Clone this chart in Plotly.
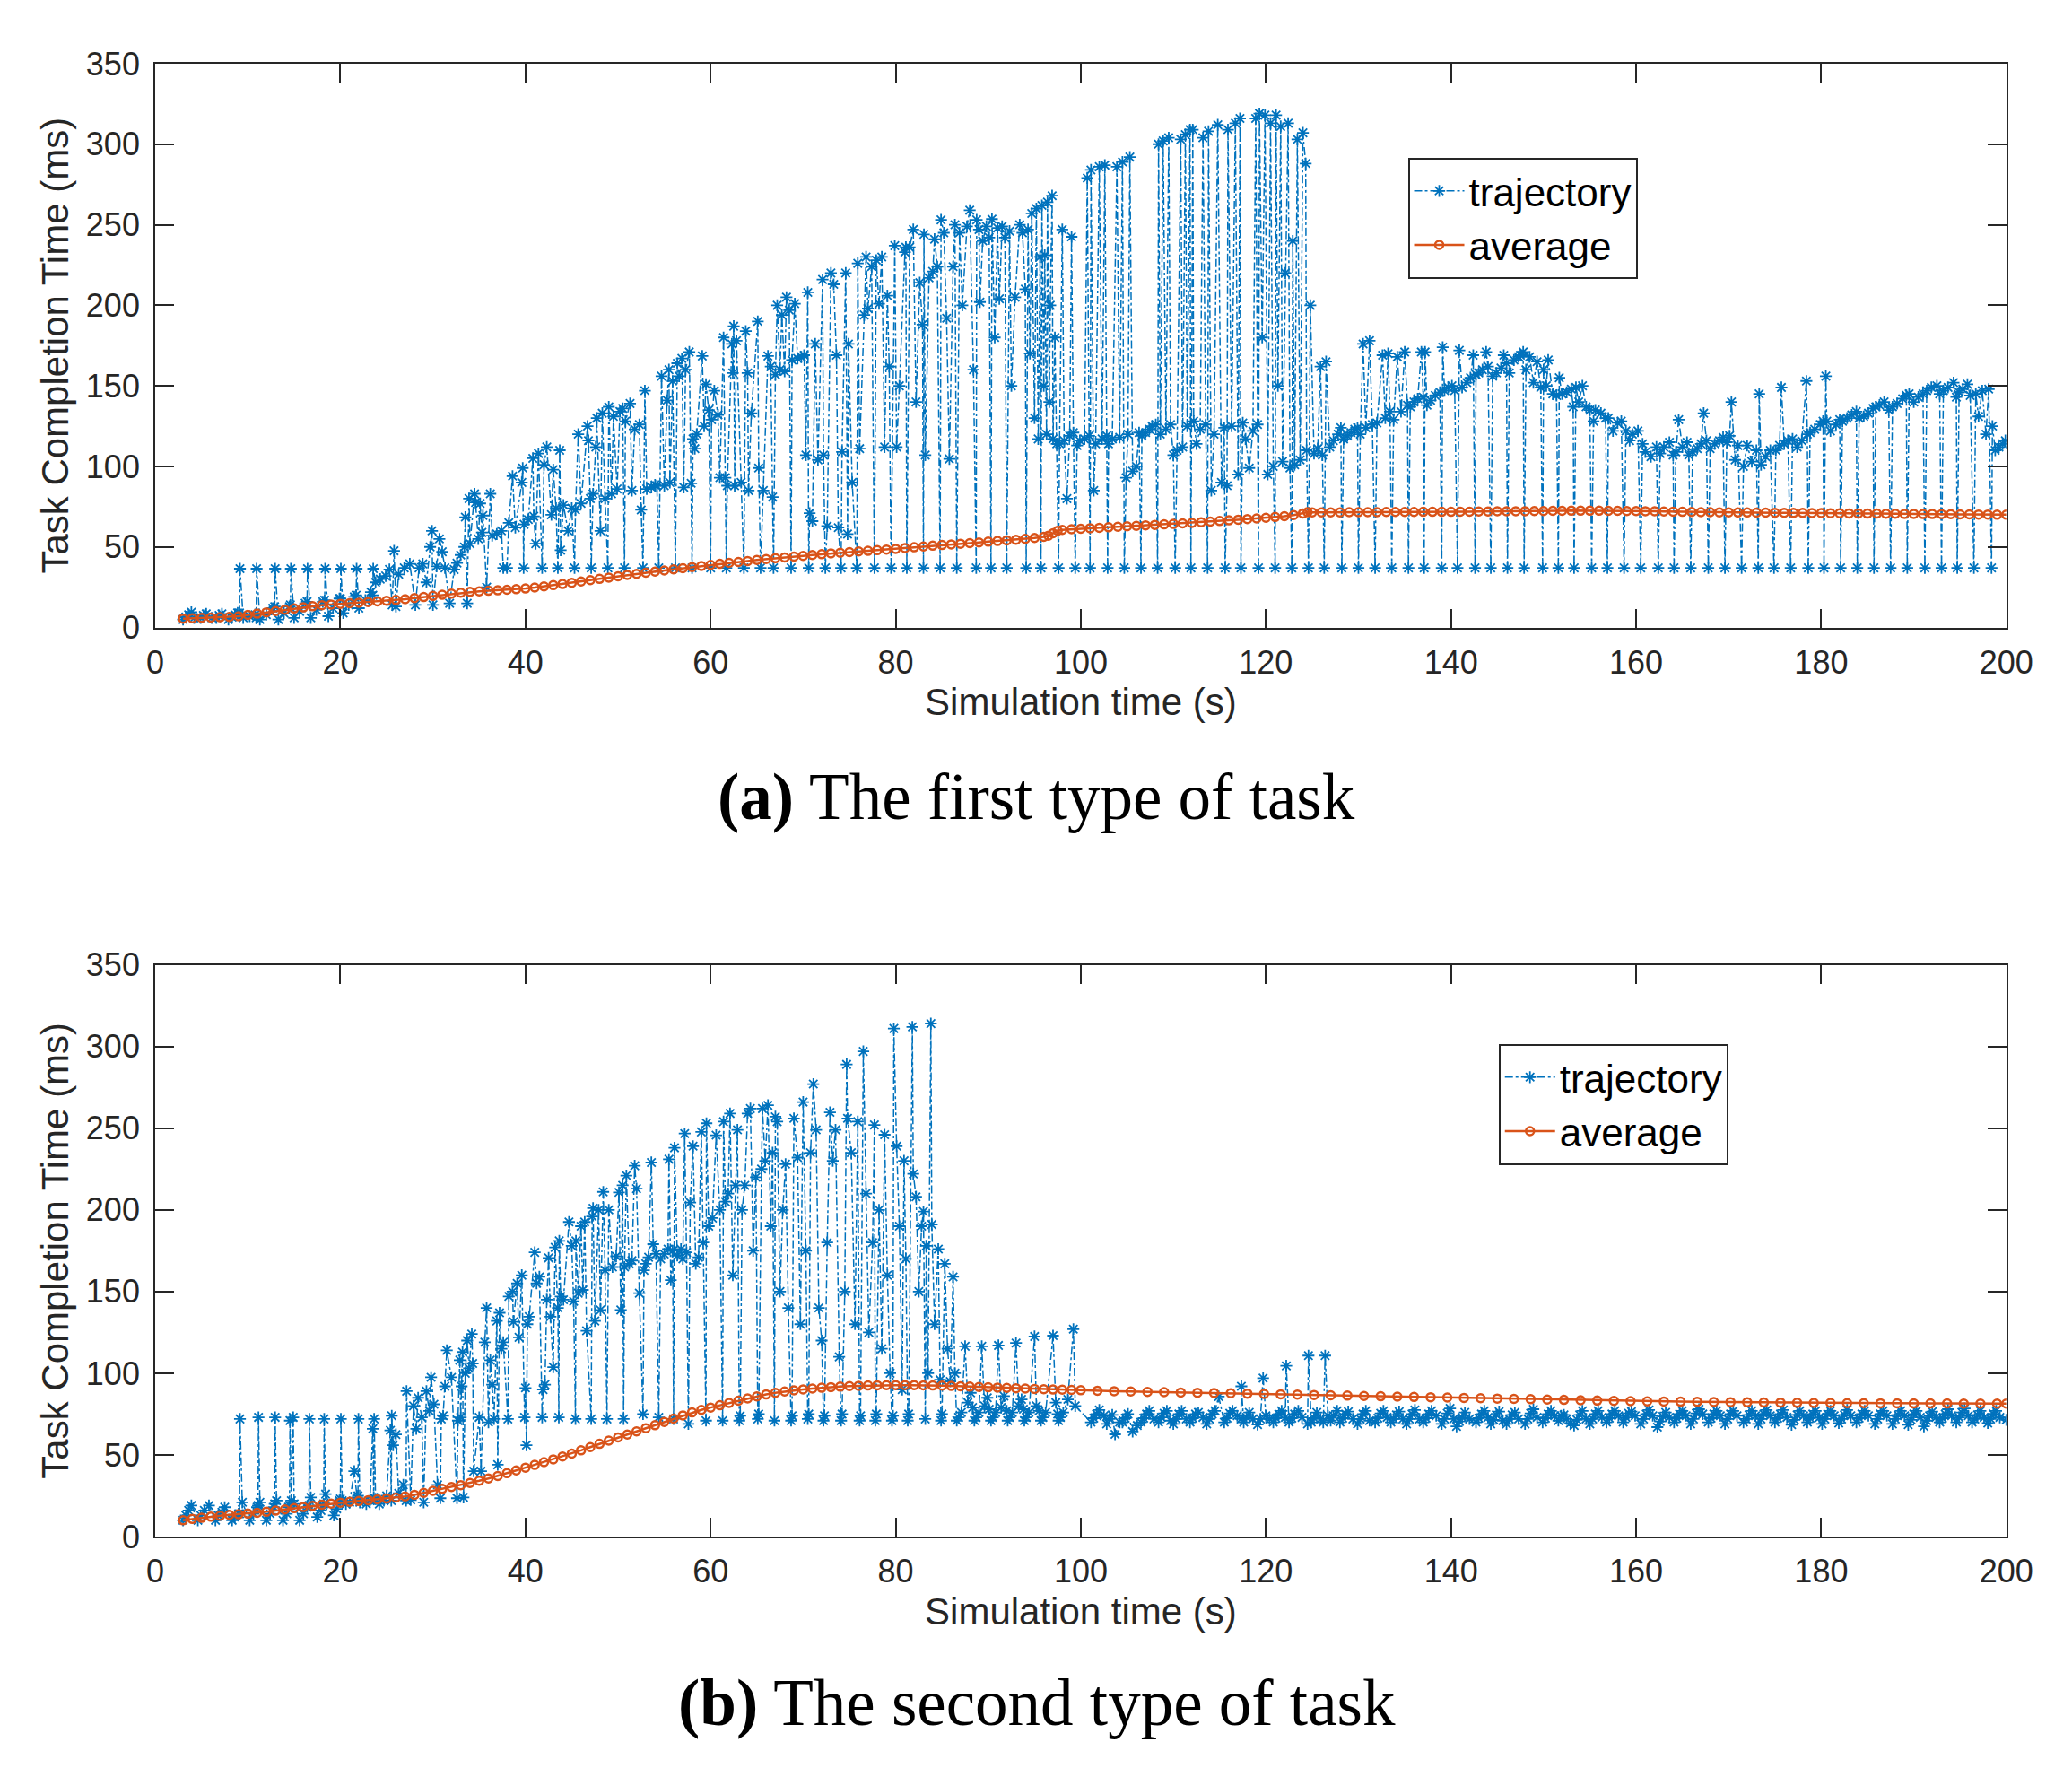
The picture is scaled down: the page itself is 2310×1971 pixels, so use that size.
import plotly.graph_objects as go

# ---- (a) first type of task: trajectory (time s, completion ms) ----
traj_a_t = [
    3.0, 3.3, 3.6, 3.9, 4.2, 4.9, 5.2, 5.5, 6.1, 6.6, 6.9, 7.2, 7.9, 8.3, 8.6, 8.9,
    9.1, 9.15, 9.5, 10.2, 10.8,
    10.9, 10.95, 11.3, 12.0, 12.7,
    12.9, 12.95, 13.3, 13.9, 14.5,
    14.6, 14.65, 15.0, 15.6, 16.2,
    16.4, 16.45, 16.8, 17.4, 18.1,
    18.3, 18.35, 18.7, 19.2, 19.9,
    20.0, 20.05, 20.3, 20.9, 21.5,
    21.7, 21.75, 22.0, 22.7, 23.3,
    23.5, 23.55, 23.8, 24.3, 24.9, 25.3,
    25.6, 25.8, 26.0, 26.3, 26.9, 27.5,
    28.1, 28.5, 28.9, 29.3, 29.7, 29.9,
    30.0, 30.4, 30.7, 31.0, 31.3,
    31.8, 32.3, 32.6, 33.0, 33.4, 33.5, 33.7,
    33.9, 34.0, 34.5, 34.6, 34.9, 35.1, 35.3, 35.4,
    35.8, 36.2, 36.4, 36.9, 37.4, 37.6,
    38.0, 38.2, 38.6, 38.9, 39.6, 39.7,
    39.8, 39.85, 40.3, 40.8, 40.9, 41.1, 41.4,
    41.8, 42.0, 42.3, 42.8, 43.0, 43.3,
    43.5, 43.7, 43.8, 44.1, 44.6, 45.0,
    45.3, 45.4, 45.7, 46.0, 46.7, 46.8, 47.0,
    47.1, 47.3, 47.6, 47.7, 48.1, 48.3, 48.6,
    48.9, 49.0, 49.3, 49.5, 49.9, 50.2, 50.5,
    50.7, 50.8, 51.3, 51.5, 51.8, 52.3, 52.5,
    52.7, 52.9, 53.1, 53.6, 54.0, 54.2,
    54.4, 54.7, 55.0, 55.3, 55.5, 55.6, 55.9,
    56.2, 56.4, 56.6, 56.9, 57.1, 57.3, 57.7, 57.9,
    58.0, 58.1, 58.3, 58.5, 59.1, 59.3, 59.5, 59.8,
    60.0, 60.1, 60.4, 60.8, 61.0, 61.4, 61.6,
    61.7, 61.8, 62.3, 62.4, 62.5, 62.6, 62.8, 63.3,
    63.6, 63.8, 64.0, 64.1, 64.4, 65.1, 65.2,
    65.4, 65.7, 66.2, 66.5, 66.7,
    66.8, 67.0, 67.2, 67.5, 67.7, 68.0, 68.2, 68.5,
    68.7, 68.8, 69.1, 69.4, 69.8, 70.1, 70.3, 70.5,
    70.6, 70.7, 71.0, 71.3, 71.6, 72.1, 72.2,
    72.4, 72.6, 73.0, 73.3, 73.6, 73.8,
    74.1, 74.2, 74.6, 74.8, 74.9, 75.3,
    75.8, 75.9, 76.1, 76.6, 76.8, 77.0, 77.4,
    77.7, 77.9, 78.2, 78.5, 78.8, 79.1, 79.3,
    79.5, 79.9, 80.1, 80.4, 81.0, 81.1,
    81.2, 81.5, 81.9, 82.2, 82.6, 82.9,
    83.0, 83.05, 83.2, 83.6, 84.0, 84.2, 84.5,
    84.8, 84.9, 85.2, 85.5, 85.8, 86.2, 86.4,
    86.6, 86.9, 87.2, 87.7, 88.0, 88.4,
    88.7, 88.75, 89.0, 89.1, 89.4, 89.8, 90.1,
    90.3, 90.4, 90.7, 91.0, 91.2, 91.5, 91.8,
    92.0, 92.3, 92.5, 92.9, 93.4, 93.7, 94.0,
    94.1, 94.3, 94.5, 94.7, 95.0, 95.2, 95.4, 95.6,
    95.7, 95.8, 96.0, 96.1, 96.3, 96.4, 96.6, 96.7, 96.9, 97.0, 97.2, 97.4,
    97.6, 97.7, 98.0, 98.2, 98.5, 98.8, 99.0, 99.2,
    99.4, 99.6, 99.9, 100.4, 100.7, 100.9,
    101.0, 101.1, 101.4, 101.6, 102.0, 102.3, 102.6, 102.8,
    102.9, 103.0, 103.4, 103.9, 104.2, 104.5,
    104.7, 104.9, 105.1, 105.3, 105.6, 106.0, 106.3,
    106.5, 106.6, 107.0, 107.4, 107.7, 108.1,
    108.3, 108.4, 108.6, 108.9, 109.2, 109.5, 109.7, 110.0,
    110.2, 110.4, 110.8, 111.0, 111.3, 111.5, 111.8,
    111.9, 112.1, 112.2, 112.5, 112.9, 113.2, 113.5,
    113.7, 113.8, 114.1, 114.4, 114.8, 115.2, 115.5,
    115.6, 115.8, 115.9, 116.3, 116.7, 117.0, 117.2,
    117.3, 117.5, 117.8, 118.2, 118.6, 118.9, 119.1,
    119.2, 119.3, 119.6, 119.9, 120.2, 120.5, 120.8,
    121.0, 121.1, 121.3, 121.6, 121.8, 122.1, 122.4, 122.6,
    122.8, 122.9, 123.1, 123.4, 123.7, 124.0, 124.3, 124.4,
    124.6, 124.8, 125.2, 125.6, 125.9, 126.1,
    126.3, 126.5, 126.9, 127.3, 127.8, 128.1,
    128.2, 128.4, 128.8, 129.2, 129.6, 129.9,
    130.0, 130.2, 130.5, 130.8, 131.2, 131.5,
    131.8, 132.0, 132.6, 132.9, 133.2, 133.4,
    133.6, 133.8, 134.2, 134.6, 135.0, 135.3,
    135.4, 135.6, 136.0, 136.4, 136.8, 137.0,
    137.1, 137.2, 137.4, 137.8, 138.3, 138.8,
    139.0, 139.1, 139.3, 139.7, 140.1, 140.4,
    140.7, 140.9, 141.2, 141.7, 142.1, 142.4,
    142.6, 142.7, 143.0, 143.4, 143.8, 144.0,
    144.3, 144.5, 144.9, 145.4, 145.7, 146.0,
    146.1, 146.3, 146.8, 147.3, 147.5, 147.8,
    147.9, 148.1, 148.5, 148.9, 149.3, 149.7,
    149.9, 150.0, 150.3, 150.5, 151.0, 151.4,
    151.6, 151.7, 152.0, 152.5, 153.0, 153.2,
    153.3, 153.5, 153.8, 154.2, 154.6, 155.0,
    155.2, 155.4, 155.6, 156.2, 156.7,
    156.9, 157.0, 157.5, 158.0, 158.4,
    158.7, 158.9, 159.3, 159.6, 160.2,
    160.5, 160.7, 161.0, 161.6, 162.2,
    162.4, 162.6, 163.0, 163.6, 164.0,
    164.1, 164.3, 164.6, 165.0, 165.5, 165.7,
    165.9, 166.1, 166.6, 167.0, 167.3, 167.6,
    167.8, 168.0, 168.5, 169.0, 169.4,
    169.6, 169.8, 170.1, 170.3, 170.7, 171.0,
    171.4, 171.6, 172.0, 172.5, 173.0,
    173.2, 173.3, 173.5, 174.0, 174.5,
    174.9, 175.1, 175.5, 175.7, 176.0, 176.4,
    176.7, 176.9, 177.4, 177.9, 178.4, 178.5,
    178.6, 178.8, 179.3, 179.9, 180.2,
    180.3, 180.5, 180.6, 181.0, 181.6, 182.0,
    182.1, 182.3, 182.8, 183.3, 183.8,
    183.9, 184.1, 184.6, 185.1, 185.6,
    185.7, 185.9, 186.3, 186.8, 187.3,
    187.5, 187.7, 188.2, 188.8, 189.2,
    189.3, 189.5, 190.0, 190.5, 191.0,
    191.2, 191.4, 191.9, 192.5, 192.8,
    193.0, 193.2, 193.7, 194.3, 194.6,
    194.7, 194.9, 195.3, 195.8, 196.1,
    196.5, 196.7, 197.0, 197.4, 197.8, 198.1,
    198.4, 198.5, 198.8, 199.2, 199.6, 199.9,
]
traj_a_y = [
    5, 6.5, 8, 9.5, 6, 6, 7.5, 8.5, 6, 6, 7.5, 8.5, 5, 6.5, 8, 9,
    9, 36.5, 6, 7, 8,
    6, 36.5, 5, 8, 12,
    13, 36.5, 5, 9, 13,
    14, 36.5, 6, 10, 15,
    16, 36.5, 6, 11, 16,
    17, 36.5, 7, 12, 18,
    18, 36.5, 9, 14, 19,
    20, 36.5, 12, 17, 22,
    20, 36.5, 28, 30, 32, 36,
    14, 47.6, 13, 33, 37, 39.5,
    14, 37, 39.5, 28, 50, 60,
    14, 38, 55, 47, 37,
    15, 36, 40, 45, 50, 68.5, 15,
    80, 52, 83, 77.6, 55, 77, 59, 69.5,
    25, 83, 57, 58, 60, 37,
    37, 65, 94, 62, 90, 99,
    37, 64, 67, 105, 69, 52, 108,
    37, 101, 112, 70, 98, 74,
    37, 110, 48, 76, 60, 74,
    37, 73, 120, 77, 125, 116, 80,
    37, 83, 112, 130, 60, 133, 80,
    37, 137, 83, 131, 86, 134, 136,
    37, 128, 139, 85, 123, 126, 73,
    37, 147, 86, 87, 88.5, 88,
    37, 156, 88, 141, 160, 90, 153,
    37, 164, 156, 167, 87, 160, 171, 89.5,
    37, 117, 111, 120, 168.5, 125, 151, 135,
    37, 129, 147, 132, 93, 180, 93,
    37, 88, 176, 158, 187, 88, 178, 90,
    37, 184, 158, 85, 133, 190, 99,
    37, 85, 168.5, 162, 81,
    37, 157, 200, 160, 194, 159, 205, 197,
    37, 166, 201, 167, 168, 169, 107, 208,
    37, 71, 66, 176, 104, 216, 107,
    37, 63, 220, 213, 169, 62,
    37, 109, 220, 58, 176, 90,
    37, 226, 111, 194, 230, 198, 224,
    37, 228, 201, 230, 112, 206, 162,
    37, 237, 112, 150, 233, 236,
    37, 236, 247, 140, 214, 188,
    37, 244, 107, 217, 221, 241, 224,
    37, 253, 245, 192, 104.6, 224, 250,
    37, 245, 200, 249, 259, 160,
    37, 253, 247, 202, 240, 249, 242,
    37, 253.5, 180, 248, 204, 249, 242,
    37, 246, 150, 205, 250, 245, 210,
    37, 247, 170, 257, 130, 260, 117, 230,
    37, 262, 150, 231, 120, 264, 140, 200, 268, 117, 180, 114,
    37, 114, 247, 116, 80, 119, 242.5, 121,
    37, 113, 116, 117, 279, 119,
    37, 284, 85, 114, 286, 117, 287, 119,
    37, 114, 117, 286, 118, 289,
    37, 93, 120, 292, 97, 100, 121,
    37, 119, 121, 123, 125, 126,
    37, 300, 120, 302, 123, 304, 126, 107,
    37, 110, 303, 112, 306, 125, 309,
    37, 309, 128, 114, 123, 304, 126,
    37, 308, 85, 120, 312, 90, 124,
    37, 88, 309, 125, 313, 95, 316,
    37, 127, 117, 99, 122, 316, 126,
    37, 319, 180, 318, 95, 313, 100,
    37, 318, 150, 311, 103, 220, 313, 99,
    37, 240, 101, 303, 104, 307, 288, 110,
    37, 200, 108, 111, 162, 107,
    37, 165, 112, 116, 120, 124,
    37, 117, 119, 121, 123, 124,
    37, 120, 176, 124, 178, 126,
    37, 127, 169, 130, 170, 134,
    37, 129, 168, 134, 171, 138,
    37, 137, 140, 142, 171, 143,
    37, 171, 138, 141, 144, 146,
    37, 174, 147, 149, 150, 147,
    37, 172, 149, 152, 155, 169,
    37, 157, 158, 160, 171, 162,
    37, 156, 158, 161, 169, 164,
    37, 158, 166, 168, 169, 171,
    37, 160, 168, 152, 165, 149,
    37, 160, 150, 166, 145, 144,
    37, 155, 145, 146, 148, 137,
    37, 149, 140, 150, 137, 135,
    37, 128, 135, 133, 130,
    37, 130, 122, 127, 128,
    37, 122, 116, 120, 122,
    37, 114, 109, 106, 112,
    37, 108, 112, 115, 107,
    37, 109, 129, 112, 115, 107,
    37, 109, 111, 114, 133, 116,
    37, 111, 114, 116, 118,
    37, 115, 119, 140, 104, 113,
    37, 100, 113, 103, 110,
    37, 145, 101, 106, 110,
    37, 110, 113, 149, 114, 116,
    37, 117, 112, 116, 153, 120,
    37, 121, 123, 126, 128,
    37, 156, 128, 122, 126, 129,
    37, 128, 130, 132, 134,
    37, 130, 131, 133, 136,
    37, 137, 138, 140, 135,
    37, 137, 139, 142, 144,
    37, 145, 140, 143, 145,
    37, 147, 149, 150, 145,
    37, 147, 149, 152, 143,
    37, 146, 148, 151, 144,
    37, 145, 131, 147, 120, 148,
    37, 125, 110, 112, 114, 116,
]

# ---- (a) running average ----
avg_a_t = [
    3, 4, 5, 6, 7, 8, 9, 10, 11, 12, 13, 14, 15, 16, 17, 18, 19, 20,
    21, 22, 23, 24, 25, 26, 27, 28, 29, 30, 31, 32, 33, 34, 35, 36, 37, 38, 39, 40,
    41, 42, 43, 44, 45, 46, 47, 48, 49, 50, 51, 52, 53, 54, 55, 56, 57, 58, 59, 60,
    61, 62, 63, 64, 65, 66, 67, 68, 69, 70, 71, 72, 73, 74, 75, 76, 77, 78, 79, 80,
    81, 82, 83, 84, 85, 86, 87, 88, 89, 90, 91, 92, 93, 94, 95, 96, 96.5, 97, 97.5, 98, 99, 100,
    101, 102, 103, 104, 105, 106, 107, 108, 109, 110, 111, 112, 113, 114, 115, 116, 117, 118, 119, 120,
    121, 122, 123, 124, 124.5, 125, 126, 127, 128, 129, 130, 131, 132, 133, 134, 135, 136, 137, 138, 139, 140,
    141, 142, 143, 144, 145, 146, 147, 148, 149, 150, 151, 152, 153, 154, 155, 156, 157, 158, 159, 160,
    161, 162, 163, 164, 165, 166, 167, 168, 169, 170, 171, 172, 173, 174, 175, 176, 177, 178, 179, 180,
    181, 182, 183, 184, 185, 186, 187, 188, 189, 190, 191, 192, 193, 194, 195, 196, 197, 198, 199, 200,
]
avg_a_y = [
    5.5, 5.8, 6.0, 6.2, 6.4, 6.6, 7.0, 7.8, 8.6, 9.4, 10.2, 11.0, 11.8, 12.5, 13.2, 13.8, 14.3, 14.7,
    15.1, 15.4, 15.8, 16.2, 16.6, 17.1, 17.6, 18.3, 18.9, 19.6, 20.3, 21.0, 21.6, 22.1, 22.5, 22.8, 23.1, 23.4, 23.8, 24.2,
    24.8, 25.5, 26.3, 27.0, 27.8, 28.6, 29.4, 30.2, 31.0, 31.8, 32.6, 33.3, 34.0, 34.7, 35.4, 36.1, 36.8, 37.5, 38.2, 38.9,
    39.5, 40.1, 40.7, 41.3, 41.9, 42.5, 43.0, 43.5, 44.0, 44.5, 45.0, 45.5, 46.0, 46.4, 46.8, 47.2, 47.6, 48.0, 48.4, 48.8,
    49.3, 49.8, 50.3, 50.8, 51.2, 51.6, 52.0, 52.4, 52.8, 53.3, 53.7, 54.1, 54.5, 55.0, 55.6, 56.3, 57.0, 58.5, 60.0, 60.6, 61.0, 61.3,
    61.6, 61.9, 62.2, 62.5, 62.8, 63.1, 63.4, 63.7, 64.0, 64.3, 64.6, 64.9, 65.3, 65.7, 66.1, 66.5, 66.9, 67.3, 67.7, 68.1,
    68.6, 69.1, 69.8, 70.8, 71.6, 71.5, 71.5, 71.5, 71.5, 71.6, 71.6, 71.6, 71.6, 71.7, 71.7, 71.7, 71.7, 71.8, 71.8, 71.8, 71.8,
    71.9, 71.9, 72.0, 72.0, 72.1, 72.1, 72.2, 72.2, 72.3, 72.3, 72.4, 72.4, 72.5, 72.5, 72.5, 72.5, 72.4, 72.4, 72.3, 72.3,
    72.2, 72.1, 72.0, 71.9, 71.8, 71.7, 71.6, 71.6, 71.5, 71.5, 71.4, 71.4, 71.3, 71.3, 71.2, 71.2, 71.1, 71.1, 71.0, 71.0,
    70.9, 70.9, 70.8, 70.8, 70.7, 70.7, 70.6, 70.6, 70.5, 70.5, 70.4, 70.4, 70.3, 70.3, 70.2, 70.2, 70.1, 70.1, 70.0, 70.0,
]

# ---- (b) second type of task: trajectory ----
traj_b_t = [
    3.0, 3.3, 3.6, 3.9, 4.6, 4.9, 5.3, 5.8, 6.5, 6.8, 7.2, 7.5, 8.3, 8.6, 9.0,
    9.1, 9.15, 9.4, 10.2, 10.6, 11.0,
    11.1, 11.15, 11.3, 12.0, 12.4, 12.8,
    12.9, 12.95, 13.1, 13.8, 14.2, 14.4,
    14.5, 14.55, 14.7, 14.9, 15.0, 15.6, 16.0, 16.4,
    16.6, 16.65, 16.8, 17.5, 17.9, 18.1,
    18.2, 18.25, 18.4, 19.3, 19.6, 19.9,
    20.0, 20.05, 20.2, 20.6, 21.0, 21.5, 21.8,
    21.9, 21.95, 22.1, 22.8, 23.2, 23.5,
    23.6, 23.65, 23.8, 24.2, 24.7, 25.0, 25.4,
    25.5, 25.55, 25.7, 26.0, 26.3, 26.8,
    27.1, 27.15, 27.6, 27.9, 28.2, 28.4, 28.8,
    29.0, 29.3, 29.6, 29.8, 30.1, 30.5,
    30.8, 30.9, 31.1, 31.3, 31.5, 32.0,
    32.6, 32.7, 32.9, 33.0, 33.1, 33.2,
    33.3, 33.5, 33.7, 33.9, 34.2, 34.3, 34.4,
    35.0, 35.2, 35.6, 35.8, 36.0, 36.2, 36.4,
    36.6, 36.9, 37.0, 37.2, 37.4, 37.6,
    38.1, 38.2, 38.6, 38.7, 39.1, 39.3, 39.6,
    39.9, 40.0, 40.1, 40.2, 40.4, 41.0, 41.2, 41.5,
    41.8, 41.9, 42.1, 42.3, 42.5, 42.7, 43.0, 43.2, 43.5,
    43.6, 43.65, 43.8, 44.1, 44.7, 45.0, 45.2,
    45.4, 45.45, 45.7, 46.0, 46.2, 46.4, 46.6,
    47.1, 47.2, 47.3, 47.5, 47.9, 48.1, 48.4, 48.6,
    48.8, 49.0, 49.4, 49.8, 50.1, 50.3, 50.5,
    50.6, 50.7, 50.9, 51.2, 51.5, 51.8, 52.0, 52.3,
    52.7, 52.8, 53.0, 53.3, 53.6, 53.8, 54.1,
    54.4, 54.6, 55.0, 55.4, 55.5, 55.7, 55.9,
    56.0, 56.1, 56.4, 56.8, 57.0, 57.2, 57.4,
    57.6, 57.8, 58.1, 58.4, 58.7, 59.0, 59.2,
    59.5, 59.55, 59.8, 60.2, 60.6, 61.0,
    61.3, 61.4, 61.6, 61.9, 62.1, 62.4, 62.7, 62.9,
    63.1, 63.2, 63.4, 63.7, 64.0, 64.3, 64.6, 64.9,
    65.1, 65.2, 65.5, 65.6, 65.9, 66.2, 66.5, 66.7,
    66.9, 67.0, 67.2, 67.5, 67.8, 68.1, 68.4,
    68.7, 68.8, 69.0, 69.4, 69.7, 70.0, 70.3,
    70.5, 70.6, 70.8, 71.1, 71.4, 71.7, 72.0,
    72.2, 72.3, 72.6, 72.9, 73.2, 73.5, 73.9,
    74.1, 74.2, 74.5, 74.7, 74.8, 75.2, 75.6, 75.9,
    76.1, 76.2, 76.5, 76.8, 77.1, 77.5, 77.7,
    77.8, 77.9, 78.2, 78.5, 78.8, 79.1, 79.4,
    79.6, 79.7, 79.8, 80.1, 80.4, 80.7, 80.9, 81.1,
    81.3, 81.4, 81.8, 81.9, 82.2, 82.5, 82.8, 83.0,
    83.2, 83.3, 83.5, 83.8, 83.9, 84.2, 84.6, 84.8,
    84.9, 85.0, 85.3, 85.6, 85.9, 86.2, 86.4,
    86.6, 86.8, 87.1, 87.5, 87.8, 88.1, 88.3,
    88.5, 88.7, 89.0, 89.3, 89.6, 89.9, 90.1,
    90.3, 90.5, 90.8, 91.1, 91.4, 91.7, 92.0,
    92.1, 92.3, 92.6, 93.0, 93.3, 93.6, 93.8,
    93.9, 94.1, 94.4, 95.0, 95.2, 95.5,
    95.7, 95.9, 96.2, 97.0, 97.3, 97.5,
    97.6, 97.8, 98.1, 98.6, 99.2, 99.4,
    101.1, 101.4, 101.7, 102.0, 102.5,
    102.8, 103.1, 103.4, 103.7, 104.2,
    104.5, 104.8, 105.1, 105.6, 106.1,
    106.5, 106.8, 107.1, 107.4, 107.9,
    108.4, 108.7, 109.0, 109.3, 109.7,
    110.0, 110.3, 110.6, 110.9, 111.4,
    111.8, 112.1, 112.4, 112.7, 113.2,
    113.6, 113.9, 114.2, 114.5, 114.9,
    115.5, 115.8, 116.1, 116.4, 116.9,
    117.3, 117.35, 117.6, 117.9, 118.2, 118.6,
    119.1, 119.4, 119.7, 120.0, 120.4,
    120.8, 121.1, 121.4, 121.7, 122.1,
    122.2, 122.5, 122.8, 123.1, 123.5, 123.9,
    124.5, 124.6, 124.9, 125.2, 125.5, 125.9,
    126.2, 126.4, 126.7, 127.0, 127.3, 127.7,
    128.0, 128.3, 128.6, 128.9, 129.4,
    129.9, 130.2, 130.5, 130.8, 131.2,
    131.8, 132.1, 132.4, 132.7, 133.1,
    133.5, 133.8, 134.1, 134.4, 134.8,
    135.2, 135.5, 135.8, 136.1, 136.6,
    137.0, 137.3, 137.6, 137.9, 138.4,
    139.0, 139.3, 139.6, 139.9, 140.3,
    140.6, 140.9, 141.2, 141.5, 142.0,
    142.7, 143.0, 143.3, 143.6, 144.0,
    144.3, 144.6, 144.9, 145.2, 145.6,
    146.0, 146.3, 146.6, 146.9, 147.3,
    148.0, 148.3, 148.6, 148.9, 149.3,
    149.9, 150.2, 150.5, 150.8, 151.2,
    151.6, 151.9, 152.2, 152.5, 152.9,
    153.3, 153.6, 153.9, 154.2, 154.6,
    155.0, 155.3, 155.6, 155.9, 156.3,
    156.8, 157.1, 157.4, 157.7, 158.1,
    158.6, 158.9, 159.2, 159.5, 159.9,
    160.5, 160.8, 161.1, 161.4, 161.8,
    162.3, 162.6, 162.9, 163.2, 163.6,
    164.1, 164.4, 164.7, 165.0, 165.4,
    165.9, 166.2, 166.5, 166.8, 167.2,
    167.8, 168.1, 168.4, 168.7, 169.1,
    169.6, 169.9, 170.2, 170.5, 170.9,
    171.6, 171.9, 172.2, 172.5, 172.9,
    173.2, 173.5, 173.8, 174.1, 174.5,
    175.0, 175.3, 175.6, 175.9, 176.3,
    176.8, 177.1, 177.4, 177.7, 178.1,
    178.5, 178.8, 179.1, 179.4, 179.8,
    180.1, 180.4, 180.7, 181.0, 181.4,
    181.9, 182.2, 182.5, 182.8, 183.2,
    183.8, 184.1, 184.4, 184.7, 185.1,
    185.8, 186.1, 186.4, 186.7, 187.1,
    187.7, 188.0, 188.3, 188.6, 189.0,
    189.4, 189.7, 190.0, 190.3, 190.7,
    191.1, 191.4, 191.7, 192.0, 192.4,
    192.8, 193.1, 193.4, 193.7, 194.1,
    194.6, 194.9, 195.2, 195.5, 195.9,
    196.3, 196.6, 196.9, 197.2, 197.6,
    198.0, 198.3, 198.6, 198.9, 199.3, 200.0,
]
traj_b_y = [
    10, 13, 16, 19, 10, 13, 16, 19, 10, 13, 15, 18, 10, 12, 14,
    14, 72, 21, 10, 14, 18,
    19, 73, 21, 10, 14, 18,
    20, 73, 22, 10, 14, 18,
    19, 71, 22, 73, 20, 10, 14, 18,
    19, 72, 24, 12, 16, 19,
    20, 72, 26, 13, 17, 22,
    23, 72, 22, 20, 21, 40, 24,
    25, 72, 21, 20, 22, 66,
    24, 72, 23, 20, 22, 25, 65,
    22, 74, 56, 62.5, 26.5, 31.7,
    22, 89, 22.4, 80, 66, 85, 73,
    21, 89, 77, 97.5, 81, 31.7,
    23.5, 72, 74, 92, 114, 97.5,
    23.5, 71, 108, 73, 92, 113,
    24, 100, 120, 103, 124, 106, 40,
    73, 40, 119, 140, 70, 108, 93,
    72, 132, 44, 137, 115, 119,
    72, 147, 150, 131.5, 155, 122, 160,
    73, 91, 56, 130, 134.6, 174, 155, 159,
    73, 90, 93, 145, 170.6, 134.6, 103.7, 177, 140,
    73, 181, 147, 145, 192.6, 178, 144,
    72, 181, 149, 190, 151, 192.6, 126,
    72, 196, 201, 132, 200, 138.7, 211, 163,
    72, 200, 165, 171.6, 210.7, 138.7, 215,
    72, 165, 221, 167, 169, 227, 213, 149,
    75, 163, 167, 171, 229, 179, 173,
    73, 170, 173, 176, 231, 157, 175,
    72, 238, 172, 176, 170, 246.7, 174,
    69, 204.5, 239, 167, 171, 247.7, 180,
    71, 253, 190, 195, 245.7, 200,
    71, 254, 205, 210, 259, 160, 215, 249,
    71, 74, 200, 215, 259, 262, 175, 220,
    72, 75, 225, 262, 230, 264, 190, 235,
    71, 257, 254, 150, 200, 228, 140,
    71, 74, 256, 232, 130, 266, 175,
    72, 75, 235, 277, 249, 140, 120,
    71, 74, 180, 259.7, 230, 249, 110,
    71, 75, 150, 289, 256, 235, 130, 254,
    71, 74, 297, 210, 125, 180, 252,
    71, 75, 200, 115, 246, 160, 100,
    71, 74, 311, 239, 190, 90, 230, 170,
    71, 75, 312, 222, 208, 150, 190, 199,
    72, 178, 100, 314, 191, 130, 176, 96,
    71, 75, 167, 115, 95, 159, 100,
    71, 73, 76, 116.5, 82, 88, 79,
    71, 73, 76, 116.5, 80, 85, 78,
    71, 73, 76, 117, 79, 86, 77,
    71, 73, 76, 118.5, 80, 84, 78,
    71, 73, 76, 122.5, 80, 77,
    71, 73, 76, 123, 82, 75,
    71, 73, 76, 84, 127, 80,
    70, 72.5, 75, 77.5, 74,
    69, 72, 74.5, 62.6, 70,
    70, 72.5, 75, 64.3, 68,
    70, 72.5, 75, 77, 72,
    70, 73, 75.5, 77, 71,
    69, 72, 75, 77, 72,
    70, 72.5, 75, 76, 73,
    69, 72, 75, 77, 85.7,
    70, 72.5, 75.5, 77, 74,
    72, 92, 70, 73, 76, 72,
    68.6, 72, 97, 74, 72,
    70, 72.5, 75, 77, 73,
    104.5, 70, 72.5, 75, 77, 73,
    69, 110.8, 70, 72.5, 76, 72,
    70, 110.8, 74, 71, 74, 77,
    70, 72.5, 75, 76.5, 72,
    69, 72, 75, 77, 71,
    70, 72.5, 75.5, 77, 73,
    70, 72, 74.5, 76.5, 72,
    69, 72, 75, 77.5, 72,
    70, 72.5, 75, 77, 74,
    69, 72, 75.5, 78.5, 72,
    67.5, 70.5, 73, 76, 72,
    70, 72.5, 75, 77, 73,
    69, 71.5, 74.5, 76.5, 71,
    69, 72, 74.5, 76, 72,
    69, 72, 75.5, 78, 73,
    70, 72.5, 75, 77, 74,
    71, 74, 74.5, 72, 69.5,
    68, 71.5, 74.5, 77, 72,
    69, 72, 75, 77, 73,
    70, 72.5, 75, 77, 74,
    70, 73, 75.5, 76.5, 74,
    69, 72, 75, 77.5, 74,
    67, 70.5, 73.5, 76, 73,
    70, 72.5, 75, 77, 74,
    69, 72, 75.5, 78, 75,
    70, 72.5, 75, 77, 74,
    69, 72, 75, 77, 74,
    70, 72, 74.5, 77, 74,
    69, 72, 75, 77.5, 74,
    70, 72.5, 75, 77.5, 73,
    68.5, 71.5, 74.5, 77, 74,
    70, 72.5, 75, 77, 73,
    69, 72, 75, 77, 74,
    69.5, 72, 74.5, 77.5, 74,
    70, 72.5, 75, 77, 74,
    69, 72, 75, 77, 74,
    69, 72, 74.5, 77, 74,
    68.5, 71.5, 75, 77, 73,
    67.5, 71, 74, 76.5, 73,
    70, 72.5, 75, 78, 74,
    70, 73, 76, 78.5, 74,
    70, 72, 74.5, 77, 73,
    69.5, 72, 75, 77, 73, 71.5,
]

# ---- (b) running average ----
avg_b_t = [
    3, 4, 5, 6, 7, 8, 9, 10, 11, 12, 13, 14, 15, 16, 17, 18, 19, 20,
    21, 22, 23, 24, 25, 26, 27, 28, 29, 30, 31, 32, 33, 34, 35, 36, 37, 38, 39, 40,
    41, 42, 43, 44, 45, 46, 47, 48, 49, 50, 51, 52, 53, 54, 55, 56, 57, 58, 59, 60,
    61, 62, 63, 64, 65, 66, 67, 68, 69, 70, 71, 72, 73, 74, 75, 76, 77, 78, 79, 80,
    81, 82, 83, 84, 85, 86, 87, 88, 89, 90, 91, 92, 93, 94, 95, 96, 97, 98, 99, 100,
    101.8, 103.6, 105.4, 107.2, 109.0, 110.8, 112.6, 114.4, 116.2, 118.0, 119.8, 121.6,
    123.4, 125.2, 127.0, 128.8, 130.6, 132.4, 134.2, 136.0, 137.8, 139.6, 141.4, 143.2,
    145.0, 146.8, 148.6, 150.4, 152.2, 154.0, 155.8, 157.6, 159.4, 161.2, 163.0, 164.8,
    166.6, 168.4, 170.2, 172.0, 173.8, 175.6, 177.4, 179.2, 181.0, 182.8, 184.6, 186.4,
    188.2, 190.0, 191.8, 193.6, 195.4, 197.2, 199.0, 200.0,
]
avg_b_y = [
    10.0, 10.8, 11.5, 12.2, 12.8, 13.3, 13.7, 14.1, 14.6, 15.2, 15.9, 16.6, 17.4, 18.1, 18.8, 19.5, 20.2, 20.8,
    21.3, 21.8, 22.3, 22.8, 23.3, 23.9, 24.6, 25.6, 26.8, 28.0, 29.2, 30.4, 31.5, 32.8, 34.2, 35.6, 37.1, 38.8, 40.5, 42.2,
    43.9, 45.6, 47.3, 49.0, 50.8, 52.8, 54.8, 56.8, 58.8, 60.7, 62.5, 64.4, 66.3, 68.2, 70.2, 72.2, 74.2, 76.0, 77.6, 79.0,
    80.4, 81.8, 83.2, 84.6, 85.8, 87.0, 88.0, 88.8, 89.5, 90.1, 90.6, 91.1, 91.5, 91.8, 92.1, 92.3, 92.5, 92.6, 92.7, 92.7,
    92.7, 92.7, 92.6, 92.5, 92.4, 92.2, 92.0, 91.8, 91.6, 91.4, 91.2, 91.0, 90.8, 90.6, 90.4, 90.2, 90.0, 89.9, 89.8, 89.6,
    89.3, 89.0, 88.8, 88.6, 88.4, 88.2, 88.0, 87.9, 87.7, 87.5, 87.3, 87.1,
    86.9, 86.7, 86.5, 86.3, 86.1, 85.9, 85.7, 85.5, 85.3, 85.1, 84.9, 84.7,
    84.5, 84.3, 84.1, 83.9, 83.7, 83.5, 83.3, 83.1, 82.9, 82.8, 82.7, 82.6,
    82.5, 82.4, 82.3, 82.2, 82.1, 82.0, 81.9, 81.8, 81.8, 81.7, 81.7, 81.6,
    81.6, 81.5, 81.5, 81.5, 81.4, 81.4, 81.4, 81.4,
]

x_ticks = [0, 20, 40, 60, 80, 100, 120, 140, 160, 180, 200]
y_ticks = [0, 50, 100, 150, 200, 250, 300, 350]

W, H = 2310, 1971
BLUE = "#0072BD"
ORANGE = "#D95319"
AXIS = "#262626"
SANS = "Liberation Sans"

fig = go.Figure()


def add_panel(tt, ty, at, ay, xa, ya, leg):
    fig.add_trace(go.Scatter(
        x=tt, y=ty, xaxis=xa, yaxis=ya, legend=leg, name="trajectory",
        mode="lines+markers",
        line=dict(color=BLUE, width=1.5, dash="dashdot"),
        marker=dict(symbol="asterisk-open", size=11, color=BLUE,
                    line=dict(color=BLUE, width=1.8)),
    ))
    fig.add_trace(go.Scatter(
        x=at, y=ay, xaxis=xa, yaxis=ya, legend=leg, name="average",
        mode="lines+markers",
        line=dict(color=ORANGE, width=2.5),
        marker=dict(symbol="circle-open", size=9, color=ORANGE,
                    line=dict(color=ORANGE, width=2.5)),
    ))


add_panel(traj_a_t, traj_a_y, avg_a_t, avg_a_y, "x", "y", "legend")
add_panel(traj_b_t, traj_b_y, avg_b_t, avg_b_y, "x2", "y2", "legend2")

axis_style = dict(
    showline=True, linecolor=AXIS, linewidth=2, mirror="ticks",
    ticks="inside", ticklen=21, tickwidth=2, tickcolor=AXIS,
    showgrid=False, zeroline=False,
    tickfont=dict(family=SANS, size=36, color=AXIS),
)
title_font = dict(family=SANS, size=42, color=AXIS)
xdom = [166 / W, 2266 / W]

fig.update_layout(
    width=W, height=H,
    margin=dict(l=0, r=0, t=0, b=0),
    paper_bgcolor="white", plot_bgcolor="white",
    xaxis=dict(axis_style, domain=xdom, anchor="y", range=[0, 200],
               tickvals=x_ticks, ticklabelstandoff=6,
               title=dict(text="Simulation time (s)", font=title_font, standoff=10)),
    yaxis=dict(axis_style, domain=[1 - 694 / H, 1 - 52 / H], anchor="x", range=[0, 350],
               tickvals=y_ticks, ticklabelstandoff=8,
               title=dict(text="Task Completion Time (ms)", font=title_font, standoff=6)),
    xaxis2=dict(axis_style, domain=xdom, anchor="y2", range=[0, 200],
                tickvals=x_ticks, ticklabelstandoff=6,
                title=dict(text="Simulation time (s)", font=title_font, standoff=10)),
    yaxis2=dict(axis_style, domain=[1 - 1729 / H, 1 - 1078 / H], anchor="x2", range=[0, 350],
                tickvals=y_ticks, ticklabelstandoff=8,
                title=dict(text="Task Completion Time (ms)", font=title_font, standoff=6)),
    legend=dict(x=1587 / W, y=1 - 159 / H, xanchor="left", yanchor="top",
                bgcolor="white", bordercolor=AXIS, borderwidth=2,
                font=dict(family=SANS, size=44, color="black"),
                itemwidth=56, tracegroupgap=0),
    legend2=dict(x=1690 / W, y=1 - 1168 / H, xanchor="left", yanchor="top",
                 bgcolor="white", bordercolor=AXIS, borderwidth=2,
                 font=dict(family=SANS, size=44, color="black"),
                 itemwidth=56, tracegroupgap=0),
    showlegend=True,
)

cap_font = dict(family="Liberation Serif", size=73, color="black")
fig.add_annotation(text="<b>(a)</b> The first type of task", x=1166 / W, y=1 - 887 / H,
                   xref="paper", yref="paper", showarrow=False, font=cap_font,
                   xanchor="center", yanchor="middle")
fig.add_annotation(text="<b>(b)</b> The second type of task", x=1166 / W, y=1 - 1918 / H,
                   xref="paper", yref="paper", showarrow=False, font=cap_font,
                   xanchor="center", yanchor="middle")

# page body has a default 8px margin; remove it so the figure sits at the window origin
fig.write_html("out.html", config={"displayModeBar": False},
               post_script="document.body.style.margin='0px';")
